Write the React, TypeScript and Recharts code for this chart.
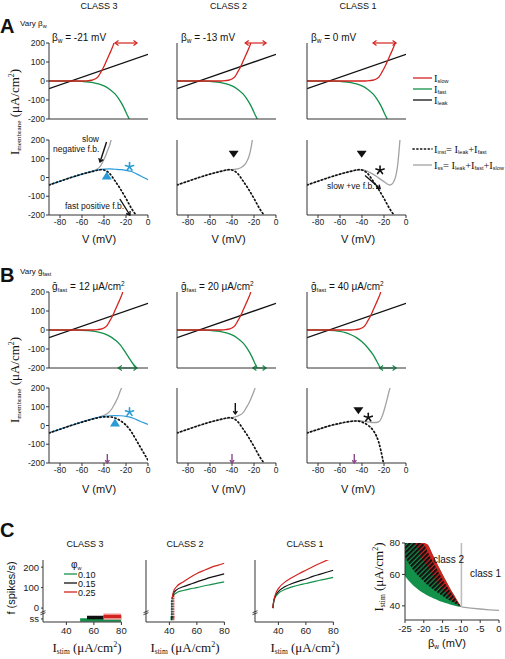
import React from 'react';
import { LineChart, ComposedChart, Line, Area, XAxis, YAxis, ReferenceDot, ReferenceLine } from 'recharts';

type P = [number, number];

const SANS = "'Liberation Sans', Arial, sans-serif";
const SERIF = "'Liberation Serif', 'Times New Roman', serif";

const RED = '#d3231f';
const GREEN = '#13914a';
const BLACK = '#111111';
const GRAY = '#a3a3a3';
const BLUE = '#2a9bd6';
const PURPLE = '#8c4a8c';
const AXIS = '#333333';

// A / B: membrane currents (V in mV, I in uA/cm2)
const V_TICKS = [-80, -60, -40, -20, 0];
const I_TICKS = [-200, -100, 0, 100, 200];

const LEAK: P[] = [[-90, -40], [0, 140]];
const FAST_20: P[] = [[-90, 0], [-70, 0], [-60, -2], [-50, -8], [-45, -15], [-40, -26], [-35, -43], [-30, -68], [-27, -90], [-24, -118], [-21, -152], [-19, -178], [-17, -200]];
const FAST_12: P[] = [[-90, 0], [-65, 0], [-55, -3], [-50, -6], [-45, -11], [-40, -19], [-35, -32], [-30, -52], [-25, -80], [-22, -105], [-18, -140], [-14, -175], [-10.3, -200]];
const FAST_40: P[] = [[-90, 0], [-72, 0], [-65, -3], [-60, -7], [-55, -14], [-50, -25], [-45, -40], [-40, -62], [-35, -92], [-30, -130], [-27, -160], [-25, -182], [-23.6, -200]];

const SLOW_B21: P[] = [[-90, 0], [-58, 0], [-54, 2], [-50, 6], [-47, 14], [-45, 26], [-43, 45], [-41, 66], [-39, 90], [-37, 116], [-35, 142], [-33, 168], [-31.5, 190], [-31, 200]];
const SLOW_B13: P[] = [[-90, 0], [-50, 0], [-46, 2], [-42, 6], [-39, 14], [-37, 26], [-35, 45], [-33, 66], [-31, 90], [-29, 116], [-27, 142], [-25, 168], [-23.5, 190], [-23, 200]];
const SLOW_B0: P[] = [[-90, 0], [-37, 0], [-33, 2], [-29, 6], [-26, 14], [-24, 26], [-22, 45], [-20, 66], [-18, 90], [-16, 116], [-14, 142], [-12, 168], [-10.5, 190], [-10, 200]];

const INST_20: P[] = [[-90, -40], [-80, -20], [-70, 0], [-60, 18], [-50, 33], [-45, 40], [-42, 42], [-40, 40], [-35, 22], [-30, -18], [-25, -62], [-20, -112], [-15, -165], [-11, -200]];
const INST_12: P[] = [[-90, -40], [-80, -20], [-70, 0], [-60, 18], [-50, 35], [-45, 42], [-40, 46], [-35, 46], [-30, 40], [-25, 25], [-20, 2], [-15, -35], [-10, -85], [-5, -135], [0, -185]];
const INST_40: P[] = [[-90, -40], [-80, -21], [-70, -2], [-60, 12], [-55, 18], [-50, 22], [-47, 24], [-44, 24], [-40, 18], [-35, 3], [-30, -25], [-27, -55], [-25, -85], [-23, -130], [-21.5, -170], [-20.5, -200]];

const SS_A1: P[] = [[-90, -40], [-70, 0], [-60, 18], [-50, 34], [-47, 42], [-45, 50], [-43, 63], [-41, 85], [-39, 110], [-37, 140], [-35, 170], [-33.5, 200]];
const SS_A2: P[] = [[-90, -40], [-70, 0], [-60, 18], [-50, 33], [-45, 40], [-41, 42], [-38, 43], [-35, 46], [-32, 52], [-29, 65], [-27, 80], [-25, 105], [-23.5, 135], [-22.5, 165], [-21.5, 200]];
const SS_A3: P[] = [[-90, -40], [-70, 0], [-60, 18], [-50, 34], [-45, 40], [-42, 41], [-39, 40], [-35, 33], [-30, 18], [-25, -2], [-20, -22], [-17, -35], [-15, -40], [-13, -36], [-11, -20], [-9, 15], [-7.5, 70], [-6.5, 130], [-5.5, 200]];
const BLUE_A: P[] = [[-90, -40], [-80, -20], [-70, 0], [-60, 18], [-50, 34], [-45, 41], [-40, 45], [-35, 46], [-30, 44], [-25, 42], [-20, 38], [-15, 32], [-10, 18], [-5, 3], [0, -12]];

const SS_B1: P[] = [[-90, -40], [-70, 0], [-60, 18], [-50, 35], [-45, 43], [-42, 50], [-39, 57], [-36, 68], [-33, 88], [-31, 108], [-29, 130], [-27, 155], [-25.5, 180], [-24, 200]];
const SS_B2: P[] = [[-90, -40], [-70, 0], [-60, 18], [-50, 33], [-45, 38], [-40, 42], [-37, 46], [-34, 53], [-31, 62], [-29, 75], [-27, 95], [-25, 115], [-23, 140], [-21, 168], [-19, 200]];
const SS_B3: P[] = [[-90, -40], [-70, -3], [-60, 10], [-55, 17], [-50, 22], [-45, 25], [-41, 24], [-37, 21], [-33, 18], [-30, 16], [-27, 16], [-25, 19], [-23, 32], [-21, 60], [-19, 100], [-17, 145], [-15.5, 180], [-14.5, 200]];
const BLUE_B: P[] = [[-90, -40], [-80, -20], [-70, 0], [-60, 20], [-50, 37], [-45, 44], [-40, 49], [-35, 52], [-30, 53], [-25, 52], [-20, 49], [-15, 42], [-10, 30], [-5, 17], [0, 6]];

// C: f-I curves
const STIM_TICKS = [40, 60, 80];
const RATE_TICKS = [-53, 0, 100, 200];
const RATE_LABELS = ['ss', '0', '100', '200'];

const C3_GREEN_BAR: P[] = [[50, -58], [80, -58]];
const C3_BLACK_BAR: P[] = [[55, -46], [80, -46]];
const C3_RED_BAR: P[] = [[67, -41], [80, -41]];

const C2_RED: P[] = [[42, 47], [43, 80], [45, 103], [50, 128], [55, 150], [60, 169], [65, 184], [70, 198], [75, 209], [80, 219]];
const C2_BLACK: P[] = [[42, 47], [43, 72], [45, 88], [50, 104], [55, 116], [60, 128], [65, 139], [70, 150], [75, 159], [80, 167]];
const C2_GREEN: P[] = [[42, 47], [43, 62], [45, 74], [50, 86], [55, 94], [60, 100], [65, 108], [70, 115], [75, 122], [80, 128]];
const C2_GREEN_JUMP: P[] = [[41.5, -45], [41.5, 42]];
const C2_BLACK_JUMP: P[] = [[42, -45], [42, 47]];
const C2_RED_JUMP: P[] = [[43.2, -45], [43.2, 75]];
const C2_GREEN_SS: P[] = [[40.8, -50], [41.6, -50]];
const C2_BLACK_SS: P[] = [[41.3, -50], [42.4, -50]];
const C2_RED_SS: P[] = [[42.8, -50], [43.6, -50]];

const C1_RED: P[] = [[36, 0], [36.5, 30], [37.5, 60], [40, 95], [45, 128], [50, 150], [55, 168], [60, 185], [65, 202], [70, 218], [75, 233], [80, 247]];
const C1_BLACK: P[] = [[36, 0], [36.5, 28], [37.5, 55], [40, 80], [45, 105], [50, 120], [55, 132], [60, 142], [65, 155], [70, 165], [75, 175], [80, 185]];
const C1_GREEN: P[] = [[36, 0], [36.5, 25], [37.5, 50], [40, 72], [45, 92], [50, 104], [55, 113], [60, 120], [65, 128], [70, 136], [75, 143], [80, 150]];

// C right: bistability map
const BW = [-25, -24, -23, -22, -21, -20, -19, -18, -17, -16, -15, -14, -13, -12, -11, -10];
const R_EDGE = [80, 80, 80, 80, 80, 80, 79, 74.5, 69.5, 64.5, 60, 55.5, 51, 47, 43, 39.3];
const GREEN_LOW = [59, 56, 53.5, 51.3, 49.5, 48, 46.6, 45.4, 44.3, 43.3, 42.4, 41.6, 40.9, 40.2, 39.6, 39.3];
const BLACK_LOW = [71, 67, 63.5, 60.5, 58, 55.5, 53.3, 51.3, 49.5, 47.8, 46.2, 44.7, 43.2, 41.8, 40.5, 39.3];
const BLACK_HIGH = [80, 80, 80, 80, 80, 79, 74.5, 70, 65.5, 61, 57, 53, 49.5, 46, 42.5, 39.3];
const RED_LOW = [80, 80, 80, 78, 73, 68.5, 64.5, 60.5, 57, 53.5, 50.5, 47.8, 45.3, 43, 41, 39.3];
const CLASS_BORDER: P[] = [[-10, 39.3], [-7.5, 38.6], [-5, 38], [-2.5, 37.5], [0, 37.1]];
const CLASS_DIVIDE: P[] = [[-10, 39.3], [-10, 80]];
const BW_TICKS = [-25, -20, -15, -10, -5, 0];
const MAP_I_TICKS = [40, 60, 80];

const pts = (a: P[]) => a.map(([x, y]) => ({ x, y }));

const TICK = { fontSize: 8.5, fill: '#222', fontFamily: SANS };
const TICK_C = { fontSize: 9.5, fill: '#222', fontFamily: SANS };

type Curve = { d: P[]; color: string; w?: number; dash?: string; lin?: boolean };

const curve = (c: Curve, i: number) => (
  <Line
    key={i}
    data={pts(c.d)}
    dataKey="y"
    type={c.lin ? 'linear' : 'monotone'}
    stroke={c.color}
    strokeWidth={c.w ?? 1.3}
    strokeDasharray={c.dash}
    strokeLinecap={c.dash ? 'round' : 'butt'}
    dot={false}
    activeDot={false}
    isAnimationActive={false}
  />
);

// marker shapes (tip at cx, cy)
const triDown = (c: string) => (p: any) => (
  <polygon points={`${p.cx - 5},${p.cy - 7} ${p.cx + 5},${p.cy - 7} ${p.cx},${p.cy}`} fill={c} />
);
const triUp = (c: string) => (p: any) => (
  <polygon points={`${p.cx - 5},${p.cy + 8} ${p.cx + 5},${p.cy + 8} ${p.cx},${p.cy}`} fill={c} />
);
const star = (c: string) => (p: any) => (
  <g stroke={c} strokeWidth={1.6} strokeLinecap="round">
    {[0, 72, 144, 216, 288].map((a) => {
      const r = (a * Math.PI) / 180;
      return <line key={a} x1={p.cx} y1={p.cy} x2={p.cx + 4.2 * Math.sin(r)} y2={p.cy - 4.2 * Math.cos(r)} />;
    })}
  </g>
);
const arrow = (dx: number, dy: number, c: string, head = 4) => (p: any) => {
  const { cx, cy } = p;
  const x0 = cx + dx;
  const y0 = cy + dy;
  const ang = Math.atan2(cy - y0, cx - x0);
  const a1 = ang + Math.PI * 0.8;
  const a2 = ang - Math.PI * 0.8;
  return (
    <g stroke={c} strokeWidth={1.4} fill="none">
      <line x1={x0} y1={y0} x2={cx} y2={cy} />
      <polyline points={`${cx + head * Math.cos(a1)},${cy + head * Math.sin(a1)} ${cx},${cy} ${cx + head * Math.cos(a2)},${cy + head * Math.sin(a2)}`} />
    </g>
  );
};
const dbl = (c: string) => (p: any) => {
  const { x1, y1, x2, y2 } = p;
  const h = 3.5;
  return (
    <g stroke={c} strokeWidth={1.2} fill="none">
      <line x1={x1} y1={y1} x2={x2} y2={y2} />
      <polyline points={`${x1 + h},${y1 - 2.5} ${x1},${y1} ${x1 + h},${y1 + 2.5}`} />
      <polyline points={`${x2 - h},${y2 - 2.5} ${x2},${y2} ${x2 - h},${y2 + 2.5}`} />
    </g>
  );
};
const axisBreak = (p: any) => (
  <g stroke={AXIS} strokeWidth={0.9}>
    <line x1={p.cx - 2.5} y1={p.cy - 0.5} x2={p.cx + 2.5} y2={p.cy - 2.5} />
    <line x1={p.cx - 2.5} y1={p.cy + 1.5} x2={p.cx + 2.5} y2={p.cy - 0.5} />
  </g>
);

function IVPlot(props: { left: number; top: number; h: number; curves: Curve[]; yLab?: boolean; xLab?: boolean; children?: React.ReactNode }) {
  const { left, top, h, curves, yLab, xLab, children } = props;
  const w = 99;
  const padL = 32, padR = 12, padT = 8, padB = 14;
  const yW = 30, xH = 12;
  return (
    <div style={{ position: 'absolute', left: left - padL, top: top - padT }}>
      <LineChart width={w + padL + padR} height={h + padT + padB}
        margin={{ top: padT, right: padR, left: padL - yW, bottom: padB - xH }}>
        <XAxis type="number" dataKey="x" domain={[-90, 0]} ticks={V_TICKS} interval={0} allowDataOverflow height={xH}
          tickSize={3} tickMargin={1} tick={xLab ? TICK : false} stroke={AXIS} />
        <YAxis type="number" domain={[-200, 200]} ticks={I_TICKS} interval={0} allowDataOverflow width={yW}
          tickSize={3} tickMargin={1} tick={yLab ? TICK : false} stroke={AXIS} />
        {curves.map(curve)}
        {children}
      </LineChart>
    </div>
  );
}

function RatePlot(props: { left: number; yLab?: boolean; curves: Curve[] }) {
  const { left, yLab, curves } = props;
  const w = 78.4;
  const h = 62;
  const top = 560;
  const padL = 26, padR = 8, padT = 6, padB = 16;
  const yW = 24, xH = 14;
  return (
    <div style={{ position: 'absolute', left: left - padL, top: top - padT }}>
      <LineChart width={w + padL + padR} height={h + padT + padB}
        margin={{ top: padT, right: padR, left: padL - yW, bottom: padB - xH }}>
        <XAxis type="number" dataKey="x" domain={[23, 80]} ticks={STIM_TICKS} interval={0} allowDataOverflow height={xH}
          tickSize={3} tickMargin={2} tick={TICK_C} stroke={AXIS} />
        <YAxis type="number" domain={[-68, 235]} ticks={RATE_TICKS} interval={0} allowDataOverflow width={yW}
          tickSize={2} tickMargin={2} tick={yLab ? TICK_C : false} stroke={AXIS}
          tickFormatter={(v: number) => RATE_LABELS[RATE_TICKS.indexOf(v)]} />
        {curves.map(curve)}
        <ReferenceDot x={23} y={-25} r={0} ifOverflow="visible" shape={axisBreak} />
      </LineChart>
    </div>
  );
}

const MAP_ROWS = BW.map((b, i) => ({
  bw: b,
  green: [GREEN_LOW[i], R_EDGE[i]],
  red: [RED_LOW[i], R_EDGE[i]],
  black: [BLACK_LOW[i], BLACK_HIGH[i]],
}));

function MapPlot() {
  const padL = 24, padR = 6, padT = 6, padB = 16;
  const yW = 22, xH = 14;
  const w = 94;
  const h = 77;
  return (
    <div style={{ position: 'absolute', left: 405 - padL, top: 543 - padT }}>
      <ComposedChart width={w + padL + padR} height={h + padT + padB}
        margin={{ top: padT, right: padR, left: padL - yW, bottom: padB - xH }} data={MAP_ROWS}>
        <defs>
          <pattern id="hatch" width="3.4" height="3.4" patternUnits="userSpaceOnUse" patternTransform="rotate(45)">
            <rect width="2.2" height="3.4" fill="#111" />
          </pattern>
        </defs>
        <XAxis type="number" dataKey="bw" domain={[-25, 0]} ticks={BW_TICKS} interval={0} allowDataOverflow height={xH}
          tickSize={3} tickMargin={2} tick={TICK_C} stroke={AXIS} />
        <YAxis type="number" domain={[31, 80]} ticks={MAP_I_TICKS} interval={0} allowDataOverflow width={yW}
          tickSize={3} tickMargin={2} tick={TICK_C} stroke={AXIS} />
        <Area dataKey="green" type="monotone" stroke="none" fill={GREEN} fillOpacity={1} isAnimationActive={false} dot={false} activeDot={false} />
        <Area dataKey="red" type="monotone" stroke="none" fill={RED} fillOpacity={1} isAnimationActive={false} dot={false} activeDot={false} />
        <Area dataKey="black" type="monotone" stroke="none" fill="url(#hatch)" fillOpacity={1} isAnimationActive={false} dot={false} activeDot={false} />
        <Line data={CLASS_BORDER.map(([bw, y]) => ({ bw, y }))} dataKey="y" type="monotone" stroke={GRAY} strokeWidth={1.3} dot={false} activeDot={false} isAnimationActive={false} />
        <Line data={CLASS_DIVIDE.map(([bw, y]) => ({ bw, y }))} dataKey="y" type="linear" stroke="#bdbdbd" strokeWidth={1.6} dot={false} activeDot={false} isAnimationActive={false} />
      </ComposedChart>
    </div>
  );
}

const DOT = '1.2 2.6';

function YLabel({ x, y, size = 13 }: { x: number; y: number; size?: number }) {
  return (
    <text transform={`translate(${x},${y}) rotate(-90)`} textAnchor="middle" fontFamily={SERIF} fontSize={size} fill="#111">
      I<tspan fontSize={size * 0.55} dy={2}>membrane</tspan>
      <tspan dy={-2}> (μA/cm</tspan>
      <tspan fontSize={size * 0.6} dy={-5}>2</tspan>
      <tspan dy={5}>)</tspan>
    </text>
  );
}

function StimLabel({ x, y, rot }: { x: number; y: number; rot?: boolean }) {
  return (
    <text transform={`translate(${x},${y})${rot ? ' rotate(-90)' : ''}`} textAnchor="middle" fontFamily={SERIF} fontSize={13} fill="#111">
      I<tspan fontSize={7.5} dy={2}>stim</tspan>
      <tspan dy={-2}> (μA/cm</tspan>
      <tspan fontSize={8} dy={-5}>2</tspan>
      <tspan dy={5}>)</tspan>
    </text>
  );
}

function LegendItem({ y, label }: { y: number; label: React.ReactNode }) {
  return (
    <text x={434} y={y + 3.5} fontFamily={SERIF} fontSize={10.5} fill="#111">{label}</text>
  );
}

const sub = (t: string) => <tspan fontFamily={SANS} fontSize={5.5} dy={1.5}>{t}</tspan>;
const back = (t: string) => <tspan dy={-1.5}>{t}</tspan>;

function Overlay() {
  const t = { fontFamily: SANS, fill: '#111' };
  return (
    <svg width={505} height={659} style={{ position: 'absolute', left: 0, top: 0, pointerEvents: 'none' }}>
      {/* column titles */}
      <text x={99} y={9} textAnchor="middle" fontSize={9} {...t}>CLASS 3</text>
      <text x={228.5} y={9} textAnchor="middle" fontSize={9} {...t}>CLASS 2</text>
      <text x={358} y={9} textAnchor="middle" fontSize={9} {...t}>CLASS 1</text>

      {/* A */}
      <text x={0} y={33} fontSize={20} fontWeight="bold" {...t}>A</text>
      <text x={20} y={26} fontSize={8} {...t}>Vary β<tspan fontSize={5.5} dy={1.5}>w</tspan></text>
      <text x={52} y={41} fontSize={10} {...t}>β<tspan fontSize={6.5} dy={2}>w</tspan><tspan dy={-2}> = -21 mV</tspan></text>
      <text x={181} y={41} fontSize={10} {...t}>β<tspan fontSize={6.5} dy={2}>w</tspan><tspan dy={-2}> = -13 mV</tspan></text>
      <text x={311} y={41} fontSize={10} {...t}>β<tspan fontSize={6.5} dy={2}>w</tspan><tspan dy={-2}> = 0 mV</tspan></text>
      <YLabel x={19} y={112} />
      <text x={82} y={142} fontSize={8.5} {...t}>slow</text>
      <text x={53} y={152} fontSize={8.5} {...t}>negative f.b.</text>
      <text x={65} y={209} fontSize={8.5} {...t}>fast positive f.b.</text>
      <text x={327} y={189} fontSize={8.5} {...t}>slow +ve f.b.</text>
      <text x={99} y={243} textAnchor="middle" fontSize={11} {...t}>V (mV)</text>
      <text x={228.5} y={243} textAnchor="middle" fontSize={11} {...t}>V (mV)</text>
      <text x={358} y={243} textAnchor="middle" fontSize={11} {...t}>V (mV)</text>

      {/* legends */}
      <line x1={413} y1={78} x2={432} y2={78} stroke={RED} strokeWidth={1.3} />
      <line x1={413} y1={89} x2={432} y2={89} stroke={GREEN} strokeWidth={1.3} />
      <line x1={413} y1={100} x2={432} y2={100} stroke={BLACK} strokeWidth={1.3} />
      <LegendItem y={78} label={<>I{sub('slow')}</>} />
      <LegendItem y={89} label={<>I{sub('fast')}</>} />
      <LegendItem y={100} label={<>I{sub('leak')}</>} />
      <line x1={413} y1={149} x2={432} y2={149} stroke={BLACK} strokeWidth={1.6} strokeDasharray={DOT} strokeLinecap="round" />
      <line x1={413} y1={165} x2={432} y2={165} stroke={GRAY} strokeWidth={1.3} />
      <LegendItem y={149} label={<>I{sub('inst')}{back('= I')}{sub('leak')}{back('+I')}{sub('fast')}</>} />
      <LegendItem y={165} label={<>I{sub('ss')}{back('= I')}{sub('leak')}{back('+I')}{sub('fast')}{back('+I')}{sub('slow')}</>} />

      {/* B */}
      <text x={0} y={282} fontSize={20} fontWeight="bold" {...t}>B</text>
      <text x={20} y={274} fontSize={8} {...t}>Vary ḡ<tspan fontSize={5.5} dy={1.5}>fast</tspan></text>
      <text x={52} y={290} fontSize={10} {...t}>ḡ<tspan fontSize={6} dy={2}>fast</tspan><tspan dy={-2}> = 12 μA/cm</tspan><tspan fontSize={6.5} dy={-4}>2</tspan></text>
      <text x={181} y={290} fontSize={10} {...t}>ḡ<tspan fontSize={6} dy={2}>fast</tspan><tspan dy={-2}> = 20 μA/cm</tspan><tspan fontSize={6.5} dy={-4}>2</tspan></text>
      <text x={311} y={290} fontSize={10} {...t}>ḡ<tspan fontSize={6} dy={2}>fast</tspan><tspan dy={-2}> = 40 μA/cm</tspan><tspan fontSize={6.5} dy={-4}>2</tspan></text>
      <YLabel x={19} y={380} />
      <text x={99} y={493} textAnchor="middle" fontSize={11} {...t}>V (mV)</text>
      <text x={228.5} y={493} textAnchor="middle" fontSize={11} {...t}>V (mV)</text>
      <text x={358} y={493} textAnchor="middle" fontSize={11} {...t}>V (mV)</text>

      {/* C */}
      <text x={0} y={537} fontSize={20} fontWeight="bold" {...t}>C</text>
      <text x={85} y={547} textAnchor="middle" fontSize={9} {...t}>CLASS 3</text>
      <text x={185} y={547} textAnchor="middle" fontSize={9} {...t}>CLASS 2</text>
      <text x={305} y={547} textAnchor="middle" fontSize={9} {...t}>CLASS 1</text>
      <text x={71} y={568} fontSize={10} {...t}>φ<tspan fontSize={5.5} dy={1.5}>w</tspan></text>
      <line x1={64} y1={574} x2={77} y2={574} stroke={GREEN} strokeWidth={1.3} />
      <line x1={64} y1={583} x2={77} y2={583} stroke={BLACK} strokeWidth={1.3} />
      <line x1={64} y1={592} x2={77} y2={592} stroke={RED} strokeWidth={1.3} />
      <text x={78} y={577.5} fontSize={9} {...t}>0.10</text>
      <text x={78} y={586.5} fontSize={9} {...t}>0.15</text>
      <text x={78} y={595.5} fontSize={9} {...t}>0.25</text>
      <text transform="translate(15,588) rotate(-90)" textAnchor="middle" fontSize={11} {...t}>f (spikes/s)</text>
      <StimLabel x={87} y={652} />
      <StimLabel x={185} y={652} />
      <StimLabel x={305} y={652} />
      <StimLabel x={383} y={577} rot />
      <text x={433} y={563} fontSize={10} {...t}>class 2</text>
      <text x={470} y={577} fontSize={10} {...t}>class 1</text>
      <text x={447} y={647} textAnchor="middle" fontSize={11} {...t}>β<tspan fontSize={6.5} dy={2}>w</tspan><tspan dy={-2}> (mV)</tspan></text>
    </svg>
  );
}

const dotted = (d: P[]): Curve => ({ d, color: BLACK, w: 1.7, dash: DOT });

export default function App() {
  return (
    <div style={{ position: 'absolute', left: 0, top: 0, width: 505, height: 659, background: '#fff', overflow: 'hidden' }}>
      {/* A top: component currents */}
      <IVPlot left={49} top={43} h={76} yLab curves={[{ d: FAST_20, color: GREEN }, { d: LEAK, color: BLACK, lin: true }, { d: SLOW_B21, color: RED }]}>
        <ReferenceLine segment={[{ x: -30, y: 200 }, { x: -10, y: 200 }]} ifOverflow="visible" shape={dbl(RED)} />
      </IVPlot>
      <IVPlot left={177} top={43} h={76} curves={[{ d: FAST_20, color: GREEN }, { d: LEAK, color: BLACK, lin: true }, { d: SLOW_B13, color: RED }]}>
        <ReferenceLine segment={[{ x: -28, y: 200 }, { x: -9, y: 200 }]} ifOverflow="visible" shape={dbl(RED)} />
      </IVPlot>
      <IVPlot left={307} top={43} h={76} curves={[{ d: FAST_20, color: GREEN }, { d: LEAK, color: BLACK, lin: true }, { d: SLOW_B0, color: RED }]}>
        <ReferenceLine segment={[{ x: -30, y: 200 }, { x: -9, y: 200 }]} ifOverflow="visible" shape={dbl(RED)} />
      </IVPlot>

      {/* A bottom: I-V curves */}
      <IVPlot left={49} top={140} h={75} yLab xLab curves={[{ d: SS_A1, color: GRAY }, { d: BLUE_A, color: BLUE, w: 1.2 }, dotted(INST_20)]}>
        <ReferenceDot x={-37.5} y={32} r={0} ifOverflow="visible" shape={triUp(BLUE)} />
        <ReferenceDot x={-16.8} y={57} r={0} ifOverflow="visible" shape={star(BLUE)} />
        <ReferenceDot x={-43.6} y={83} r={0} ifOverflow="visible" shape={arrow(6.5, -20, BLACK)} />
        <ReferenceDot x={-16.5} y={-200} r={0} ifOverflow="visible" shape={arrow(-10, -16, BLACK)} />
      </IVPlot>
      <IVPlot left={177} top={140} h={75} xLab curves={[{ d: SS_A2, color: GRAY }, dotted(INST_20)]}>
        <ReferenceDot x={-38.5} y={105} r={0} ifOverflow="visible" shape={triDown(BLACK)} />
      </IVPlot>
      <IVPlot left={307} top={140} h={75} xLab curves={[{ d: SS_A3, color: GRAY }, dotted(INST_20)]}>
        <ReferenceDot x={-40.3} y={105} r={0} ifOverflow="visible" shape={triDown(BLACK)} />
        <ReferenceDot x={-23.6} y={39} r={0} ifOverflow="visible" shape={star(BLACK)} />
        <ReferenceDot x={-23.6} y={-59} r={0} ifOverflow="visible" shape={arrow(-15, -13, BLACK)} />
      </IVPlot>

      {/* B top */}
      <IVPlot left={49} top={292} h={76} yLab curves={[{ d: FAST_12, color: GREEN }, { d: LEAK, color: BLACK, lin: true }, { d: SLOW_B13, color: RED }]}>
        <ReferenceLine segment={[{ x: -27, y: -200 }, { x: -10, y: -200 }]} ifOverflow="visible" shape={dbl(GREEN)} />
      </IVPlot>
      <IVPlot left={177} top={292} h={76} curves={[{ d: FAST_20, color: GREEN }, { d: LEAK, color: BLACK, lin: true }, { d: SLOW_B13, color: RED }]}>
        <ReferenceLine segment={[{ x: -21, y: -200 }, { x: -9, y: -200 }]} ifOverflow="visible" shape={dbl(GREEN)} />
      </IVPlot>
      <IVPlot left={307} top={292} h={76} curves={[{ d: FAST_40, color: GREEN }, { d: LEAK, color: BLACK, lin: true }, { d: SLOW_B13, color: RED }]}>
        <ReferenceLine segment={[{ x: -24, y: -200 }, { x: -9, y: -200 }]} ifOverflow="visible" shape={dbl(GREEN)} />
      </IVPlot>

      {/* B bottom */}
      <IVPlot left={49} top={388} h={75} yLab xLab curves={[{ d: SS_B1, color: GRAY }, { d: BLUE_B, color: BLUE, w: 1.2 }, dotted(INST_12)]}>
        <ReferenceDot x={-30} y={38} r={0} ifOverflow="visible" shape={triUp(BLUE)} />
        <ReferenceDot x={-16.8} y={72} r={0} ifOverflow="visible" shape={star(BLUE)} />
        <ReferenceDot x={-37} y={-200} r={0} ifOverflow="visible" shape={arrow(0, -9, PURPLE, 3.5)} />
      </IVPlot>
      <IVPlot left={177} top={388} h={75} xLab curves={[{ d: SS_B2, color: GRAY }, dotted(INST_20)]}>
        <ReferenceDot x={-37} y={62} r={0} ifOverflow="visible" shape={arrow(0, -11, BLACK, 3.5)} />
        <ReferenceDot x={-40} y={-200} r={0} ifOverflow="visible" shape={arrow(0, -9, PURPLE, 3.5)} />
      </IVPlot>
      <IVPlot left={307} top={388} h={75} xLab curves={[{ d: SS_B3, color: GRAY }, dotted(INST_40)]}>
        <ReferenceDot x={-43.3} y={60} r={0} ifOverflow="visible" shape={triDown(BLACK)} />
        <ReferenceDot x={-34.3} y={43} r={0} ifOverflow="visible" shape={star(BLACK)} />
        <ReferenceDot x={-47} y={-200} r={0} ifOverflow="visible" shape={arrow(0, -9, PURPLE, 3.5)} />
      </IVPlot>

      {/* C: f-I curves */}
      <RatePlot left={43} yLab curves={[
        { d: C3_GREEN_BAR, color: GREEN, w: 3.5, lin: true },
        { d: C3_BLACK_BAR, color: BLACK, w: 3.5, lin: true },
        { d: C3_RED_BAR, color: '#f4b4b4', w: 6.5, lin: true },
        { d: C3_RED_BAR, color: RED, w: 3.5, lin: true },
      ]} />
      <RatePlot left={146} curves={[
        { d: C2_GREEN_JUMP, color: GREEN, w: 1.2, dash: '1 1.6', lin: true },
        { d: C2_BLACK_JUMP, color: BLACK, w: 1.2, dash: '1 1.6', lin: true },
        { d: C2_RED_JUMP, color: RED, w: 1.2, dash: '1 1.6', lin: true },
        { d: C2_GREEN_SS, color: GREEN, w: 4, lin: true },
        { d: C2_BLACK_SS, color: BLACK, w: 4, lin: true },
        { d: C2_RED_SS, color: RED, w: 4, lin: true },
        { d: C2_GREEN, color: GREEN, w: 1.2 },
        { d: C2_BLACK, color: BLACK, w: 1.2 },
        { d: C2_RED, color: RED, w: 1.2 },
      ]} />
      <RatePlot left={255} curves={[
        { d: C1_GREEN, color: GREEN, w: 1.2 },
        { d: C1_BLACK, color: BLACK, w: 1.2 },
        { d: C1_RED, color: RED, w: 1.2 },
      ]} />
      <MapPlot />

      <Overlay />
    </div>
  );
}
